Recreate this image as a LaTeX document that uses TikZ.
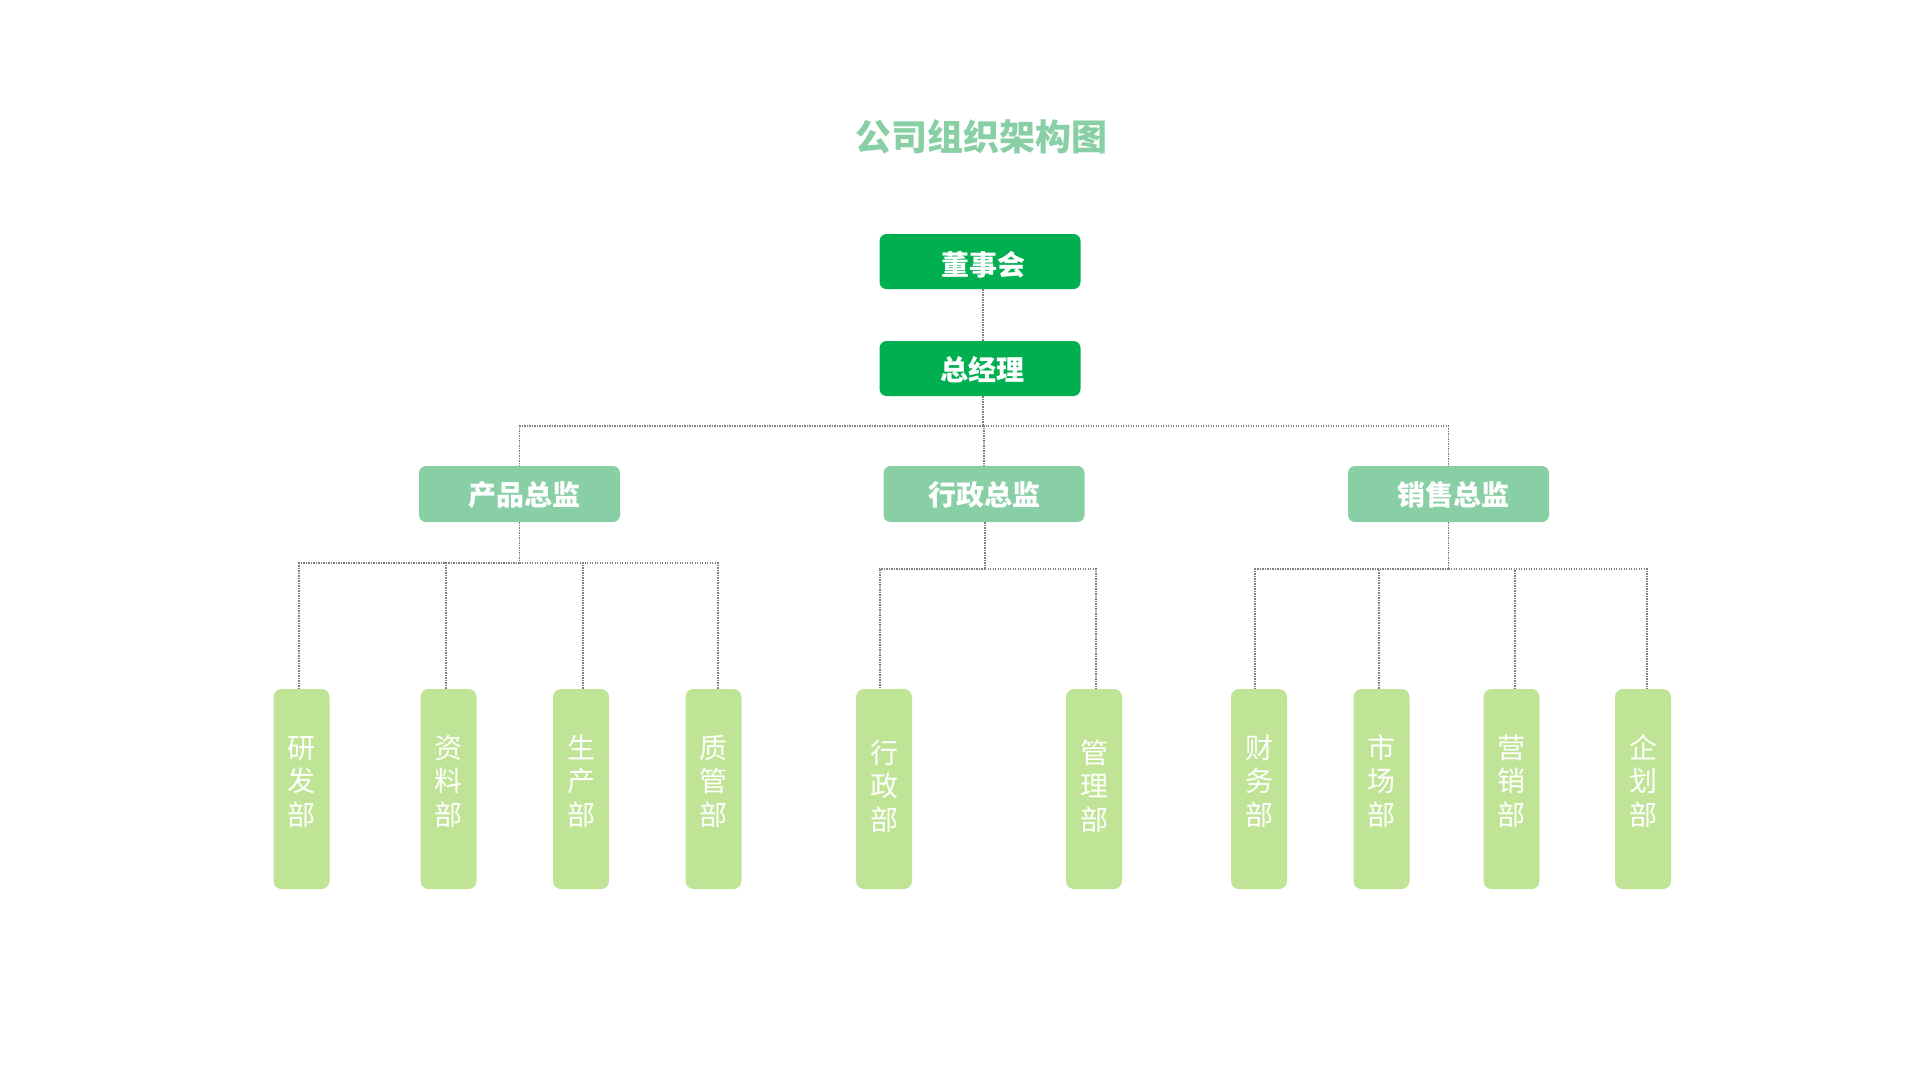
\documentclass[tikz,border=0pt]{standalone}
\usepackage{fontspec}
\setmainfont{Noto Sans CJK SC}
\definecolor{topgreen}{HTML}{00B050}
\definecolor{dirgreen}{HTML}{88CFA5}
\definecolor{leafgreen}{HTML}{C0E496}
\definecolor{linegray}{HTML}{808080}
\newcommand{\vtext}[4][4pt]{\raisebox{#1}[\height][\depth]{\begin{tabular}{@{}c@{}}#2\\#3\\#4\end{tabular}}}
\newcommand{\shifttext}[3]{\hspace*{#1}\raisebox{#2}[\height][\depth]{#3}}
\begin{document}
\begin{tikzpicture}[x=1pt,y=-1pt,
  conn/.style={draw=linegray, line width=1.5pt, dash pattern=on 1.4pt off 1.1pt},
  topbox/.style={fill=topgreen, rounded corners=7pt, minimum width=201pt, minimum height=55pt, text=white, font=\bfseries\fontsize{28}{30}\selectfont, inner sep=0pt},
  dirbox/.style={fill=dirgreen, rounded corners=7pt, minimum width=201pt, minimum height=56pt, text=white, font=\bfseries\fontsize{28}{30}\selectfont, inner sep=0pt},
  leafbox/.style={fill=leafgreen, rounded corners=8pt, minimum width=56pt, minimum height=200pt, text=white, font=\fontsize{28}{33}\selectfont, inner sep=0pt}]
\path[use as bounding box] (0,0) rectangle (1920,1080);
\node[text=dirgreen, font=\bfseries\fontsize{36}{40}\selectfont] (title) at (981,137) {公司组织架构图};
\node[topbox] (board) at (980,261.5) {\shifttext{6pt}{-3pt}{董事会}};
\node[topbox] (gm) at (980,368.5) {\shifttext{5pt}{-1.5pt}{总经理}};
\node[dirbox] (d1) at (519.5,494) {\shifttext{10pt}{-1pt}{产品总监}};
\node[dirbox] (d2) at (984,494) {\shifttext{0pt}{-1pt}{行政总监}};
\node[dirbox] (d3) at (1448.5,494) {\shifttext{10pt}{-1pt}{销售总监}};
\node[leafbox] (l1) at (301.5,789) {\vtext{研}{发}{部}};
\node[leafbox] (l2) at (448.5,789) {\vtext{资}{料}{部}};
\node[leafbox] (l3) at (581,789) {\vtext{生}{产}{部}};
\node[leafbox] (l4) at (713.5,789) {\vtext{质}{管}{部}};
\node[leafbox] (l5) at (884,789) {\vtext[-1pt]{行}{政}{部}};
\node[leafbox] (l6) at (1094,789) {\vtext[-1pt]{管}{理}{部}};
\node[leafbox] (l7) at (1259,789) {\vtext{财}{务}{部}};
\node[leafbox] (l8) at (1381.5,789) {\vtext{市}{场}{部}};
\node[leafbox] (l9) at (1511.5,789) {\vtext{营}{销}{部}};
\node[leafbox] (l10) at (1643,789) {\vtext{企}{划}{部}};
\draw[conn] ([xshift=3pt]board.south) -- ([xshift=3pt]gm.north);
\draw[conn] ([xshift=3pt]gm.south) -- ++(0,30) coordinate (b0);
\draw[conn] (b0) -| (d1.north);
\draw[conn] (b0) -| (d2.north);
\draw[conn] (b0) -| (d3.north);
\draw[conn] (d1.south) -- ++(0,41) coordinate (b1);
\draw[conn] (b1) -| ([xshift=-2.5pt]l1.north);
\draw[conn] (b1) -| ([xshift=-2.5pt]l2.north);
\draw[conn] (b1) -| ([xshift=2pt]l3.north);
\draw[conn] (b1) -| ([xshift=4.5pt]l4.north);
\draw[conn] ([xshift=1pt]d2.south) -- ++(0,47) coordinate (b2);
\draw[conn] (b2) -| ([xshift=-4pt]l5.north);
\draw[conn] (b2) -| ([xshift=2pt]l6.north);
\draw[conn] (d3.south) -- ++(0,47) coordinate (b3);
\draw[conn] (b3) -| ([xshift=-4pt]l7.north);
\draw[conn] (b3) -| ([xshift=-2.5pt]l8.north);
\draw[conn] (b3) -| ([xshift=3.5pt]l9.north);
\draw[conn] (b3) -| ([xshift=4pt]l10.north);
\end{tikzpicture}
\end{document}
